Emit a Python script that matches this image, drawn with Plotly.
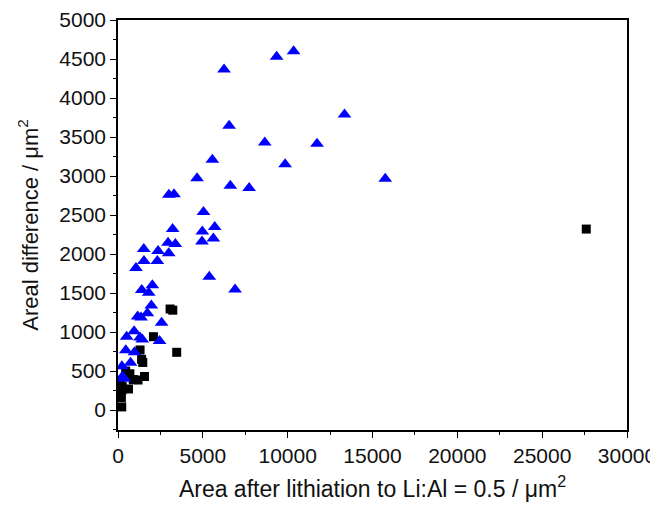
import plotly.graph_objects as go

# Blue triangles series
tri_x = [10350, 9350, 6250, 13350, 6550, 8650, 11730, 15750, 9850, 5560,
         4660, 6620, 7730, 3000, 3300, 5040, 3220, 4970, 5700, 2950,
         3380, 4950, 5620, 1520, 2360, 2990, 1060, 1530, 2320, 5380,
         6900, 1400, 1810, 2025, 1160, 1360, 1730, 1965, 2570, 510,
         950, 1300, 1430, 2450, 460, 970, 740, 230, 260, 370]
tri_y = [4600, 4530, 4365, 3790, 3645, 3430, 3415, 2965, 3150, 3210,
         2970, 2875, 2845, 2760, 2765, 2540, 2320, 2290, 2345, 2145,
         2130, 2160, 2200, 2065, 2040, 2010, 1820, 1910, 1910, 1710,
         1545, 1540, 1505, 1600, 1200, 1185, 1240, 1340, 1120, 940,
         1010, 930, 905, 885, 765, 740, 605, 560, 430, 400]

# Black squares series
sq_x = [27600, 3070, 3230, 2090, 3460, 1300, 1390, 1460, 1560, 1180,
        900, 700, 620, 240, 250, 200, 220, 160, 450]
sq_y = [2320, 1295, 1280, 940, 740, 770, 650, 610, 430, 385,
        390, 465, 270, 260, 300, 160, 40, 380, 500]

FONT = "Liberation Sans, Arial, sans-serif"

fig = go.Figure()
fig.add_trace(go.Scatter(
    x=sq_x, y=sq_y, mode="markers",
    marker=dict(symbol="square", size=9, color="#000000",
                line=dict(width=0)),
    showlegend=False))
fig.add_trace(go.Scatter(
    x=tri_x, y=tri_y, mode="markers",
    marker=dict(symbol="triangle-up", size=12, color="#0000FF",
                line=dict(width=0)),
    showlegend=False))

axis_common = dict(
    showline=True, linecolor="#000", linewidth=1.5, mirror=True,
    ticks="outside", ticklen=6, tickwidth=1.2, tickcolor="#000",
    showgrid=False, zeroline=False, automargin=False,
    tickformat="d",
    tickfont=dict(family=FONT, size=21, color="#111"),
)

fig.update_xaxes(
    range=[0, 30000], tick0=0, dtick=5000,
    minor=dict(ticks="outside", ticklen=3, dtick=2500, tickcolor="#000", tickwidth=1.2),
    title=dict(text="Area after lithiation to Li:Al = 0.5 / μm<sup>2</sup>",
               font=dict(family=FONT, size=23, color="#111")),
    **axis_common)
fig.update_yaxes(
    range=[-256, 5000], tick0=0, dtick=500,
    minor=dict(ticks="outside", ticklen=3, dtick=250, tickcolor="#000", tickwidth=1.2),
    title=dict(text="Areal difference / μm<sup>2</sup>",
               font=dict(family=FONT, size=22, color="#111")),
    **axis_common)

# page body has an 8px default margin, so the figure is sized/offset to compensate
fig.update_layout(
    width=650, height=498,
    margin=dict(l=110, r=31, t=12, b=76),
    paper_bgcolor="white", plot_bgcolor="white",
)

fig.write_html("out.html")
